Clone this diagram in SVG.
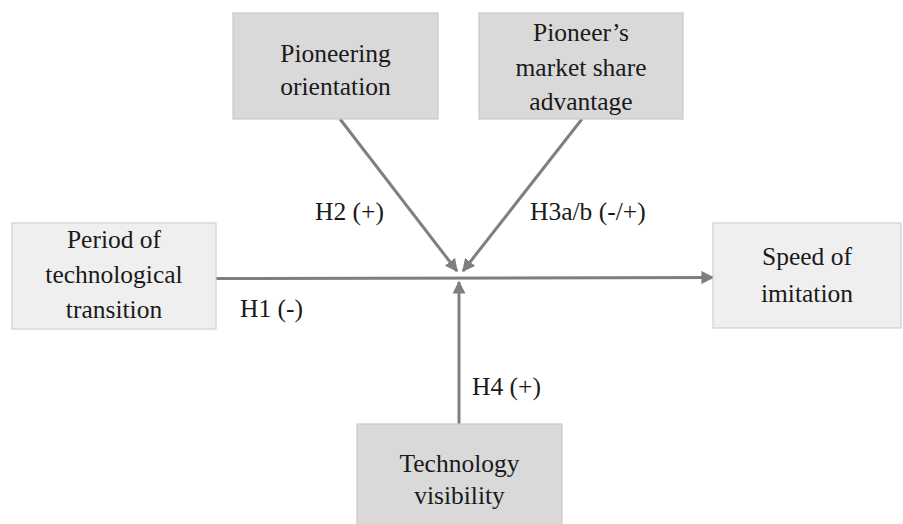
<svg xmlns="http://www.w3.org/2000/svg" width="903" height="524" viewBox="0 0 903 524">
<style>
.dark{fill:#d9d9d9;stroke:#c9c9c9;stroke-width:1.2}
.light{fill:#efefef;stroke:#cfcfcf;stroke-width:1.2}
text{font-family:'Liberation Serif','DejaVu Serif',serif;font-size:25.5px;fill:#1a1a1a}
.c{text-anchor:middle}
.ln{stroke:#7f7f7f;stroke-width:3;fill:none}
</style>
<defs>
<marker id="ah" viewBox="0 0 10 10" refX="9" refY="5" markerWidth="4.3" markerHeight="4.6" markerUnits="strokeWidth" orient="auto">
<path d="M0,0 L10,5 L0,10 z" fill="#7f7f7f"/>
</marker>
</defs>
<rect width="903" height="524" fill="#ffffff"/>
<g font-family="'Liberation Serif', 'DejaVu Serif', serif">
<g id="connectors">
<line class="ln" x1="216" y1="278.5" x2="713" y2="277.5" marker-end="url(#ah)"/>
<line class="ln" x1="340" y1="119" x2="457" y2="271" marker-end="url(#ah)"/>
<line class="ln" x1="582" y1="119" x2="463" y2="271" marker-end="url(#ah)"/>
<line class="ln" x1="459" y1="424" x2="459" y2="282" marker-end="url(#ah)"/>
<text x="315" y="220">H2 (+)</text>
<text x="530" y="220">H3a/b (-/+)</text>
<text x="240" y="317">H1 (-)</text>
<text x="472" y="395">H4 (+)</text>
</g>
<g id="pioneering">
<rect class="dark" x="233" y="13" width="205" height="106"/>
<text class="c" x="335.5" y="62">Pioneering</text>
<text class="c" x="335.5" y="95">orientation</text>
</g>
<g id="pioneer-share">
<rect class="dark" x="479" y="13" width="204" height="106"/>
<text class="c" x="581" y="41">Pioneer’s</text>
<text class="c" x="581" y="76">market share</text>
<text class="c" x="581" y="110">advantage</text>
</g>
<g id="period">
<rect class="light" x="12" y="223" width="204" height="106"/>
<text class="c" x="114" y="248">Period of</text>
<text class="c" x="114" y="283">technological</text>
<text class="c" x="114" y="318">transition</text>
</g>
<g id="speed">
<rect class="light" x="713" y="223" width="188" height="105"/>
<text class="c" x="807" y="265">Speed of</text>
<text class="c" x="807" y="302">imitation</text>
</g>
<g id="visibility">
<rect class="dark" x="357" y="424" width="205" height="106"/>
<text class="c" x="459.5" y="472">Technology</text>
<text class="c" x="459.5" y="504">visibility</text>
</g>
</g>
</svg>
